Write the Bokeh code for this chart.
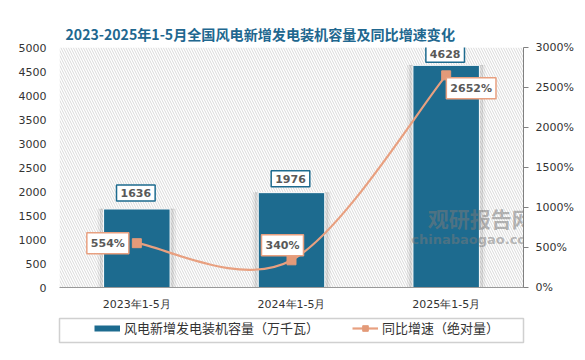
from bokeh.plotting import figure
from bokeh.layouts import column
from bokeh.models import (Range1d, LinearAxis, FixedTicker, Label, Legend, LegendItem,
                          BoxAnnotation, CustomJSTickFormatter)
from bokeh.embed import file_html
from bokeh.resources import INLINE

# ---- data ----
categories = ["2023年1-5月", "2024年1-5月", "2025年1-5月"]
capacity = [1636, 1976, 4628]          # 万千瓦
growth = [554, 340, 2652]              # %
left_ticks = list(range(0, 5001, 500))
right_ticks = list(range(0, 3001, 500))

TITLE = "2023-2025年1-5月全国风电新增发电装机容量及同比增速变化"
BAR_NAME = "风电新增发电装机容量（万千瓦）"
LINE_NAME = "同比增速（绝对量）"

BLUE = "#1D6B8F"
SALMON = "#E8A080"
MARKER = "#E39A79"
TXT = "#595959"
CJK = "Noto Sans CJK SC"

xs = [i + 0.5 for i in range(len(categories))]

p = figure(frame_width=464, frame_height=240, output_backend="svg", toolbar_location=None,
           x_range=Range1d(0, len(categories)), y_range=Range1d(0, 5000),
           min_border_left=59, min_border_right=54, min_border_top=47, min_border_bottom=20,
           background_fill_color="white", border_fill_color="white")
p.outline_line_color = None
p.xgrid.visible = False
p.ygrid.visible = False

p.title.text = TITLE
p.title.align = "left"
p.title.offset = 6
p.title.text_font = CJK
p.title.text_font_size = "14.1px"
p.title.text_font_style = "bold"
p.title.text_color = "#21678F"
p.title.standoff = 7

# hatched background
p.add_layout(BoxAnnotation(fill_alpha=0, line_alpha=0, hatch_pattern="\\", hatch_color="#cfcfcf",
                           hatch_scale=5, hatch_weight=0.8, level="underlay"))

p.extra_y_ranges = {"pct": Range1d(0, 3000)}

# axes styling
ax = p.yaxis[0]
ax.ticker = FixedTicker(ticks=left_ticks)
ax.axis_line_color = None
ax.major_tick_line_color = None
ax.major_tick_out = 0
ax.major_tick_in = 0
ax.minor_tick_line_color = None
ax.major_label_standoff = 13
ax.major_label_text_font = "DejaVu Sans"
ax.major_label_text_font_size = "11px"
ax.major_label_text_color = "#333333"

rax = LinearAxis(y_range_name="pct", ticker=FixedTicker(ticks=right_ticks))
rax.formatter = CustomJSTickFormatter(code="return tick + '%';")
rax.axis_line_color = "#808080"
rax.major_tick_line_color = "#808080"
rax.major_tick_in = 0
rax.major_tick_out = 5
rax.minor_tick_line_color = None
rax.major_label_standoff = 7
rax.major_label_text_font = "DejaVu Sans"
rax.major_label_text_font_size = "11px"
rax.major_label_text_color = "#333333"
p.add_layout(rax, "right")

bx = p.xaxis[0]
bx.ticker = FixedTicker(ticks=xs)
bx.major_label_overrides = {x: c for x, c in zip(xs, categories)}
bx.axis_line_color = "#999999"
bx.major_tick_line_color = None
bx.minor_tick_line_color = None
bx.major_label_standoff = 4
bx.major_label_text_font = "DejaVu Sans"
bx.major_label_text_font_size = "11px"
bx.major_label_text_color = "#333333"

# bar shadows + bars
p.vbar(x=xs, top=capacity, width=0.50, color="black", alpha=0.04)
p.vbar(x=xs, top=capacity, width=0.47, color="black", alpha=0.07)
p.vbar(x=xs, top=capacity, width=0.43, fill_color=BLUE, line_color="white", line_width=1)

# smooth line (Bezier segments computed from the data points)
n = len(xs)
def pt(i):
    i = max(0, min(n - 1, i))
    return xs[i], growth[i]
x0s, y0s, x1s, y1s, cx0, cy0, cx1, cy1 = [], [], [], [], [], [], [], []
for i in range(n - 1):
    pm, p0, p1, p2 = pt(i - 1), pt(i), pt(i + 1), pt(i + 2)
    x0s.append(p0[0]); y0s.append(p0[1]); x1s.append(p1[0]); y1s.append(p1[1])
    cx0.append(p0[0] + (p1[0] - pm[0]) / 6); cy0.append(p0[1] + (p1[1] - pm[1]) / 6)
    cx1.append(p1[0] - (p2[0] - p0[0]) / 6); cy1.append(p1[1] - (p2[1] - p0[1]) / 6)
p.bezier(x0=x0s, y0=y0s, x1=x1s, y1=y1s, cx0=cx0, cy0=cy0, cx1=cx1, cy1=cy1,
         line_color=SALMON, line_width=2.2, y_range_name="pct")
p.scatter(x=xs, y=growth, marker="square", size=9, fill_color=MARKER, line_color=MARKER,
          y_range_name="pct")

# data labels
bar_dy = [16, 14, 11]
for x, v, dy in zip(xs, capacity, bar_dy):
    p.add_layout(Label(x=x, y=v, text=str(v), text_align="center", text_baseline="middle",
                       y_offset=dy, x_offset=-1, text_font="DejaVu Sans", text_font_style="bold",
                       text_font_size="11px", text_color=TXT, background_fill_color="white",
                       border_line_color=BLUE, border_line_width=1.5, padding=4))
offs = [(-29, 0), (-9, 15), (25, -13)]
for (x, v), (dx, dy) in zip(zip(xs, growth), offs):
    p.add_layout(Label(x=x, y=v, text=f"{v}%", y_range_name="pct", text_align="center",
                       text_baseline="middle", x_offset=dx, y_offset=dy,
                       text_font="DejaVu Sans", text_font_style="bold", text_font_size="11px",
                       text_color=TXT, background_fill_color="white",
                       border_line_color=SALMON, border_line_width=1.5, padding=4))

# watermark
p.add_layout(Label(x=2.72, y=1450, text="观研报告网", text_align="center", text_baseline="middle",
                   text_font=CJK, text_font_style="bold", text_font_size="21px",
                   text_color="#7a7a7a", text_alpha=0.55))
p.add_layout(Label(x=2.69, y=1000, text="chinabaogao.com", text_align="center", text_baseline="middle",
                   text_font="DejaVu Sans", text_font_style="bold", text_font_size="13px",
                   text_color="#7a7a7a", text_alpha=0.5))

# ---- legend strip (its frame is the legend box) ----
lg = figure(frame_width=464, frame_height=24, output_backend="svg", toolbar_location=None,
            x_range=Range1d(0, 1), y_range=Range1d(0, 1), x_axis_type=None, y_axis_type=None,
            min_border_left=59, min_border_right=54, min_border_top=5, min_border_bottom=2,
            background_fill_color="white", border_fill_color="white")
lg.outline_line_color = "#d0d0d0"
lg.outline_line_width = 1.5
leg_bar = lg.line(x=[0, 1], y=[-5, -5], line_color=BLUE, line_width=6)
leg_line = lg.line(x=[0, 1], y=[-5, -5], line_color=SALMON, line_width=2.2)
leg_pt = lg.scatter(x=[0], y=[-5], marker="square", size=8, fill_color=MARKER, line_color=MARKER)
legend = Legend(items=[LegendItem(label=BAR_NAME, renderers=[leg_bar]),
                       LegendItem(label=LINE_NAME, renderers=[leg_line, leg_pt])],
                orientation="horizontal", location=(35, 5))
legend.label_text_font = CJK
legend.label_text_font_size = "13px"
legend.label_text_color = "#333333"
legend.border_line_color = None
legend.background_fill_alpha = 0
legend.glyph_width = 26
legend.glyph_height = 14
legend.label_height = 14
legend.padding = 0
legend.spacing = 33
legend.label_standoff = 4
legend.margin = 0
lg.add_layout(legend, "center")

layout = column(p, lg, spacing=0)
open("out.html", "w").write(file_html(layout, INLINE))
